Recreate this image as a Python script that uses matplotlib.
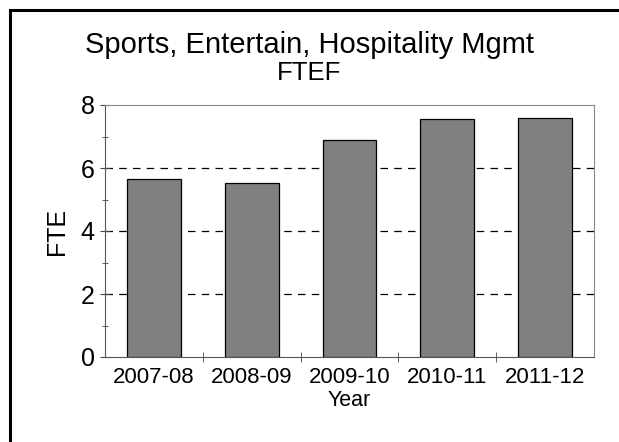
import matplotlib
matplotlib.use("Agg")
import matplotlib.pyplot as plt
from matplotlib.lines import Line2D
from matplotlib.ticker import MultipleLocator, FixedLocator, NullFormatter

years = ["2007-08", "2008-09", "2009-10", "2010-11", "2011-12"]
fte = [5.65, 5.53, 6.90, 7.56, 7.58]

plt.rcParams['font.family'] = ['Liberation Sans', 'DejaVu Sans']

W, H = 619, 442
fig = plt.figure(figsize=(W / 100, H / 100), dpi=100)
# plot area in pixels: x 105..594, y 105..357
ax = fig.add_axes([105 / W, 1 - 357 / H, (594 - 105) / W, (357 - 105) / H])

x = list(range(len(years)))
ax.bar(x, fte, width=0.55, color='#808080', edgecolor='black', linewidth=0.9, zorder=3)

ax.set_xlim(-0.5, len(years) - 0.5)
ax.set_ylim(0, 8)
ax.set_xticks(x)
ax.set_xticklabels(years, fontsize=16)
ax.xaxis.set_minor_locator(FixedLocator([i + 0.5 for i in range(len(years) - 1)]))
ax.tick_params(axis='x', which='major', length=0, pad=7)
ax.tick_params(axis='x', which='minor', length=7, direction='inout', color='#444444')

ax.yaxis.set_major_locator(MultipleLocator(2))
ax.yaxis.set_minor_locator(MultipleLocator(1))
ax.yaxis.set_minor_formatter(NullFormatter())
ax.tick_params(axis='y', which='major', labelsize=18, length=7, pad=4,
               direction='inout', color='#444444')
ax.tick_params(axis='y', which='minor', length=5, direction='inout', color='#444444')

for v in [2, 4, 6]:
    ax.axhline(v, color='black', linestyle=(0, (6, 5)), linewidth=0.9, zorder=1)

for side in ['left', 'bottom']:
    ax.spines[side].set_color('#555555')
for side in ['top', 'right']:
    ax.spines[side].set_color('#888888')

ax.set_xlabel("Year", fontsize=15.5, labelpad=2)
ax.set_ylabel("FTE", fontsize=18, labelpad=8)

fig.text(0.5, 1 - 53 / H, "Sports, Entertain, Hospitality Mgmt", ha='center',
         va='baseline', fontsize=21)
fig.text(0.5, 1 - 80 / H, "FTEF", ha='center', va='baseline', fontsize=18.5)

# frame around the chart (left and top edges fall inside the canvas)
fx, fy = 9.5 / W, 1 - 9.5 / H
fig.add_artist(Line2D([fx, fx], [0, fy], transform=fig.transFigure,
                      color='black', linewidth=2.2, solid_capstyle='projecting'))
fig.add_artist(Line2D([fx, 1], [fy, fy], transform=fig.transFigure,
                      color='black', linewidth=2.2, solid_capstyle='projecting'))

fig.savefig("out.png", dpi=100)
